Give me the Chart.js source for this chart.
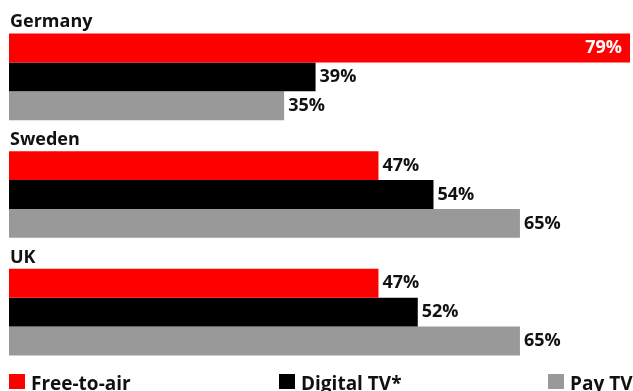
<!DOCTYPE html>
<html>
<head>
<meta charset="utf-8">
<script src="https://cdn.jsdelivr.net/npm/chart.js@4.4.1/dist/chart.umd.min.js"></script>
<style>
    html, body { margin: 0; padding: 0; background: #fff; }
    #wrap { width: 633px; height: 391px; position: relative; }
</style>
</head>
<body>
<div id="wrap"><canvas id="tvChart"></canvas></div>
<script>
/****************************** TV reception chart ********************************/

const countries = ["Germany", "Sweden", "UK"];
const freeToAir = [79, 47, 47];
const digitalTv = [39, 54, 52];
const payTv = [35, 65, 65];
const seriesNames = ["Free-to-air", "Digital TV*", "Pay TV"];
const barColors = ["#ff0000", "#000000", "#999999"];

const FONT = "'Open Sans', 'DejaVu Sans', sans-serif";

// country name above each group of bars
const groupTitles = {
    id: "groupTitles",
    afterDraw: function (chart) {
        const ctx = chart.ctx;
        const y = chart.scales.y;
        const half = y.getPixelForValue(1) - y.getPixelForValue(0);
        ctx.save();
        ctx.font = "bold 18px " + FONT;
        ctx.fillStyle = "#111";
        ctx.textAlign = "left";
        ctx.textBaseline = "alphabetic";
        countries.forEach(function (name, i) {
            const top = y.getPixelForValue(i) - half * 0.737 / 2;
            ctx.fillText(name, chart.chartArea.left + 1, top - 6);
        });
        ctx.restore();
    }
};

// percent at the end of each bar, inside in white when there is no room
const valueLabels = {
    id: "valueLabels",
    afterDatasetsDraw: function (chart) {
        const ctx = chart.ctx;
        ctx.save();
        ctx.font = "bold 18px " + FONT;
        ctx.textBaseline = "middle";
        chart.data.datasets.forEach(function (ds, di) {
            chart.getDatasetMeta(di).data.forEach(function (bar, i) {
                const txt = ds.data[i] + "%";
                const w = ctx.measureText(txt).width;
                if (bar.x + 4 + w > chart.chartArea.right) {
                    ctx.fillStyle = "#fff";
                    ctx.textAlign = "right";
                    ctx.fillText(txt, bar.x - 8, bar.y);
                } else {
                    ctx.fillStyle = "#111";
                    ctx.textAlign = "left";
                    ctx.fillText(txt, bar.x + 4, bar.y);
                }
            });
        });
        ctx.restore();
    }
};

// legend along the bottom edge
const bottomLegend = {
    id: "bottomLegend",
    afterDraw: function (chart) {
        const ctx = chart.ctx;
        const xs = [9, 279, 548];
        ctx.save();
        ctx.font = "bold 19px " + FONT;
        ctx.textAlign = "left";
        ctx.textBaseline = "alphabetic";
        chart.data.datasets.forEach(function (ds, di) {
            ctx.fillStyle = ds.backgroundColor;
            ctx.fillRect(xs[di], 374, 16, 15);
            ctx.fillStyle = "#111";
            ctx.fillText(ds.label, xs[di] + 22, 390);
        });
        ctx.restore();
    }
};

new Chart("tvChart", {
    type: "bar",
    data: {
        labels: countries,
        datasets: [
            { label: seriesNames[0], data: freeToAir, backgroundColor: barColors[0] },
            { label: seriesNames[1], data: digitalTv, backgroundColor: barColors[1] },
            { label: seriesNames[2], data: payTv, backgroundColor: barColors[2] }
        ]
    },
    options: {
        indexAxis: "y",
        responsive: true,
        maintainAspectRatio: false,
        animation: false,
        datasets: {
            bar: { categoryPercentage: 0.737, barPercentage: 1.0 }
        },
        layout: { padding: { left: 9, right: 3, top: 18, bottom: 20 } },
        scales: {
            x: { display: false, min: 0, max: 79 },
            y: { display: false }
        },
        plugins: {
            legend: { display: false },
            tooltip: { enabled: false }
        }
    },
    plugins: [groupTitles, valueLabels, bottomLegend]
});
</script>
</body>
</html>
